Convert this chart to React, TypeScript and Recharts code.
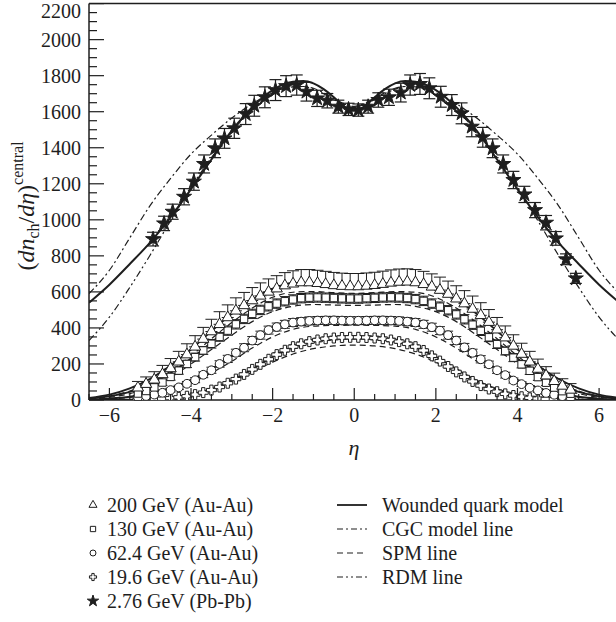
import React from 'react';
import { ComposedChart, Line, Scatter, XAxis, YAxis, ErrorBar, ReferenceLine, Symbols } from 'recharts';

const FONT = '"Liberation Serif", "DejaVu Serif", serif';
const INK = '#1e1e1e';

// ---------- Au-Au data (PHOBOS-like binning) ----------
const auEta = [-5.3, -5.1, -4.9, -4.7, -4.5, -4.3, -4.1, -3.9, -3.7, -3.5, -3.3, -3.1, -2.9, -2.7, -2.5, -2.3, -2.1, -1.9, -1.7, -1.5, -1.3, -1.1, -0.9, -0.7, -0.5, -0.3, -0.1,
  0.1, 0.3, 0.5, 0.7, 0.9, 1.1, 1.3, 1.5, 1.7, 1.9, 2.1, 2.3, 2.5, 2.7, 2.9, 3.1, 3.3, 3.5, 3.7, 3.9, 4.1, 4.3, 4.5, 4.7, 4.9, 5.1, 5.3];

const au200 = [68, 88, 112, 142, 175, 212, 252, 295, 338, 380, 420, 458, 495, 525, 552, 578, 600, 618, 635, 645, 652, 652, 648, 642, 636, 632, 630,
  630, 633, 637, 643, 650, 655, 656, 652, 642, 628, 610, 588, 562, 535, 505, 470, 432, 390, 346, 300, 255, 212, 172, 135, 104, 78, 56];
const au200Err = [35, 40, 45, 50, 55, 58, 60, 62, 65, 68, 70, 70, 72, 72, 72, 72, 72, 72, 72, 72, 72, 72, 72, 72, 72, 72, 72,
  72, 72, 72, 72, 72, 72, 72, 72, 72, 72, 72, 72, 72, 72, 72, 70, 70, 68, 65, 62, 60, 58, 55, 50, 45, 40, 35];

const au130 = [36, 50, 70, 97, 128, 163, 200, 238, 275, 312, 350, 385, 420, 450, 478, 500, 520, 535, 548, 558, 565, 568, 569, 568, 566, 564, 563,
  563, 565, 567, 569, 570, 569, 566, 560, 550, 535, 518, 498, 475, 448, 418, 384, 348, 310, 272, 235, 198, 162, 127, 96, 69, 49, 35];
const au130Err = [10, 12, 14, 16, 18, 20, 20, 22, 22, 24, 24, 26, 26, 26, 26, 26, 26, 26, 26, 26, 26, 26, 26, 26, 26, 26, 26,
  26, 26, 26, 26, 26, 26, 26, 26, 26, 26, 26, 26, 26, 26, 26, 26, 24, 24, 22, 22, 20, 20, 18, 16, 14, 12, 10];

const au62 = [15, 22, 30, 40, 55, 70, 90, 110, 140, 165, 200, 228, 262, 290, 330, 360, 388, 405, 420, 430, 435, 439, 441, 442, 442, 441, 440,
  440, 441, 442, 442, 441, 439, 435, 430, 420, 404, 385, 360, 330, 292, 262, 226, 198, 165, 138, 108, 88, 68, 53, 39, 29, 21, 14];
const au62Err = [6, 7, 8, 9, 10, 12, 13, 14, 16, 17, 18, 20, 20, 22, 22, 22, 22, 22, 22, 22, 22, 22, 22, 22, 22, 22, 22,
  22, 22, 22, 22, 22, 22, 22, 22, 22, 22, 22, 22, 22, 22, 20, 20, 18, 17, 16, 14, 13, 12, 10, 9, 8, 7, 6];

const au19 = [2, 3, 5, 7, 10, 15, 21, 30, 41, 55, 72, 93, 116, 142, 170, 198, 226, 252, 276, 296, 312, 324, 333, 340, 344, 347, 348,
  348, 347, 344, 340, 333, 324, 312, 296, 275, 245, 216, 186, 156, 128, 103, 80, 61, 46, 34, 25, 18, 12, 8, 6, 4, 3, 2];
const au19Err = [2, 2, 3, 3, 4, 4, 5, 5, 6, 6, 7, 7, 8, 8, 9, 9, 10, 10, 10, 10, 10, 10, 10, 10, 10, 10, 10,
  10, 10, 10, 10, 10, 10, 10, 10, 10, 10, 9, 9, 8, 8, 7, 7, 6, 6, 5, 5, 4, 4, 3, 3, 2, 2, 2];

// ---------- Pb-Pb data (2.76 TeV) ----------
const pbEta = [-4.93, -4.66, -4.45, -4.17, -3.93, -3.68, -3.41, -3.18, -2.94, -2.66, -2.45, -2.19, -1.93, -1.67, -1.41, -1.17, -0.91, -0.66, -0.39, -0.14,
  0.1, 0.34, 0.59, 0.85, 1.14, 1.37, 1.61, 1.84, 2.12, 2.39, 2.63, 2.88, 3.15, 3.39, 3.65, 3.9, 4.17, 4.43, 4.7, 4.94, 5.19, 5.43];
const pbVal = [893, 980, 1045, 1128, 1212, 1310, 1397, 1452, 1508, 1587, 1633, 1680, 1720, 1742, 1748, 1711, 1674, 1661, 1628, 1613,
  1609, 1628, 1665, 1680, 1706, 1748, 1754, 1730, 1683, 1637, 1591, 1517, 1458, 1397, 1310, 1221, 1141, 1054, 984, 897, 781, 675];
const pbErr = [38, 40, 42, 45, 48, 50, 52, 55, 56, 58, 58, 58, 58, 58, 56, 52, 45, 40, 36, 34,
  34, 36, 40, 45, 52, 56, 58, 58, 58, 58, 58, 56, 55, 52, 50, 48, 45, 42, 40, 38, 30, 28];

// ---------- model curves ----------
const auModelEta = [-6.5, -6, -5.5, -5, -4.5, -4, -3.5, -3, -2.5, -2, -1.5, -1, -0.5, 0, 0.5, 1, 1.5, 2, 2.5, 3, 3.5, 4, 4.5, 5, 5.5, 6, 6.5];
const wqm200 = [12, 30, 65, 118, 192, 280, 382, 478, 558, 618, 650, 650, 633, 625, 633, 650, 650, 618, 558, 478, 382, 280, 192, 118, 65, 30, 12];
const spm200 = [8, 22, 50, 95, 160, 245, 340, 430, 510, 570, 598, 602, 596, 592, 596, 602, 598, 570, 510, 430, 340, 245, 160, 95, 50, 22, 8];
const wqm130 = [8, 20, 45, 88, 150, 230, 320, 405, 480, 535, 562, 570, 565, 562, 565, 570, 562, 535, 480, 405, 320, 230, 150, 88, 45, 20, 8];
const spm130 = [5, 15, 35, 70, 125, 200, 280, 360, 435, 490, 520, 530, 527, 525, 527, 530, 520, 490, 435, 360, 280, 200, 125, 70, 35, 15, 5];
const wqm62 = [3, 8, 18, 38, 68, 112, 172, 245, 325, 390, 428, 440, 441, 440, 441, 440, 428, 390, 325, 245, 172, 112, 68, 38, 18, 8, 3];
const spm62 = [2, 6, 14, 30, 56, 95, 150, 215, 288, 350, 392, 410, 414, 415, 414, 410, 392, 350, 288, 215, 150, 95, 56, 30, 14, 6, 2];
const wqm19 = [0, 1, 2, 5, 13, 30, 60, 108, 172, 240, 292, 325, 342, 346, 342, 325, 292, 240, 172, 108, 60, 30, 13, 5, 2, 1, 0];
const spm19 = [0, 1, 2, 6, 14, 30, 58, 100, 155, 210, 255, 285, 300, 305, 300, 285, 255, 210, 155, 100, 58, 30, 14, 6, 2, 1, 0];

const pbModelEta = [-6.5, -6, -5.5, -5, -4.5, -4, -3.5, -3, -2.5, -2, -1.75, -1.5, -1.25, -1, -0.75, -0.5, -0.25, 0,
  0.25, 0.5, 0.75, 1, 1.25, 1.5, 1.75, 2, 2.5, 3, 3.5, 4, 4.5, 5, 5.5, 6, 6.5];
const pbWqm = [540, 640, 755, 875, 1015, 1170, 1335, 1495, 1625, 1720, 1750, 1766, 1770, 1757, 1725, 1680, 1630, 1605,
  1630, 1680, 1725, 1757, 1770, 1766, 1750, 1720, 1625, 1495, 1335, 1170, 1015, 875, 755, 640, 540];
const pbCgc = [590, 720, 900, 1080, 1230, 1365, 1470, 1565, 1645, 1705, 1725, 1738, 1740, 1730, 1705, 1675, 1645, 1630,
  1645, 1675, 1705, 1730, 1740, 1738, 1725, 1705, 1645, 1565, 1470, 1365, 1230, 1080, 900, 720, 590];
const pbRdm = [330, 460, 625, 805, 995, 1180, 1345, 1490, 1610, 1695, 1722, 1738, 1740, 1725, 1700, 1668, 1640, 1628,
  1640, 1668, 1700, 1725, 1740, 1738, 1722, 1695, 1610, 1490, 1345, 1180, 995, 805, 625, 460, 330];

// ---------- ticks ----------
const xTicks = [-6.5, -6, -5.5, -5, -4.5, -4, -3.5, -3, -2.5, -2, -1.5, -1, -0.5, 0, 0.5, 1, 1.5, 2, 2.5, 3, 3.5, 4, 4.5, 5, 5.5, 6, 6.5];
const xMajor = [-6, -4, -2, 0, 2, 4, 6];
const yTicks = [0, 50, 100, 150, 200, 250, 300, 350, 400, 450, 500, 550, 600, 650, 700, 750, 800, 850, 900, 950, 1000, 1050, 1100, 1150,
  1200, 1250, 1300, 1350, 1400, 1450, 1500, 1550, 1600, 1650, 1700, 1750, 1800, 1850, 1900, 1950, 2000, 2050, 2100, 2150, 2200];
const yMajor = [0, 200, 400, 600, 800, 1000, 1200, 1400, 1600, 1800, 2000, 2200];

const legendData = ['200 GeV (Au-Au)', '130 GeV (Au-Au)', '62.4 GeV (Au-Au)', '19.6 GeV (Au-Au)', '2.76 GeV (Pb-Pb)'];
const legendMarkers = ['triangle', 'square', 'circle', 'cross', 'star'];
const legendModels = ['Wounded quark model', 'CGC model line', 'SPM line', 'RDM line'];
const legendDash = ['', '6 3 2 3', '6 4', '6 3 2 3 2 3'];

const points = (eta: number[], v: number[], e: number[], up: boolean) =>
  eta.map((x, i) => ({ eta: x, v: v[i], err: up ? [0, e[i]] : e[i] }));
const curve = (eta: number[], v: number[]) => eta.map((x, i) => ({ eta: x, v: v[i] }));

const fmt = (v: number) => (v < 0 ? `\u2212${-v}` : `${v}`);

const XTick = (props: any) => {
  const { x, y, payload } = props;
  const major = xMajor.includes(payload.value);
  return (
    <g>
      <line x1={x} x2={x} y1={y} y2={y - (major ? 12 : 6)} stroke={INK} strokeWidth={1.2} />
      {major && (
        <text x={x} y={y + 22} textAnchor="middle" fontFamily={FONT} fontSize={20} fill={INK}>{fmt(payload.value)}</text>
      )}
    </g>
  );
};

const YTick = (props: any) => {
  const { x, y, payload } = props;
  const major = yMajor.includes(payload.value);
  const top = payload.value === 2200;
  return (
    <g>
      <line x1={x} x2={x + (major ? 15 : 8)} y1={y} y2={y} stroke={INK} strokeWidth={1.2} />
      {major && (
        <text x={x - 8} y={top ? Math.max(y + 7, 18) : y + 7} textAnchor="end" fontFamily={FONT} fontSize={20} fill={INK}>{fmt(payload.value)}</text>
      )}
    </g>
  );
};

const mk = (type: any, size: number, fill: string) => (p: any) => (
  <Symbols cx={p.cx} cy={p.cy} type={type} size={size} fill={fill} stroke={INK} strokeWidth={1} />
);

export default function App() {
  const lineProps = { type: 'monotone' as const, dataKey: 'v', dot: false, activeDot: false, isAnimationActive: false, stroke: INK };
  return (
    <div style={{ position: 'absolute', left: 0, top: 0, width: 616, height: 622, overflow: 'hidden', background: '#fff' }}>
      <ComposedChart width={620} height={622} margin={{ top: 3.6, right: 0.5, bottom: 192, left: 0 }}>
        <XAxis type="number" dataKey="eta" domain={[-6.5, 6.5]} ticks={xTicks} interval={0} allowDataOverflow
          tick={<XTick />} tickLine={false} tickSize={0} tickMargin={0} height={30} axisLine={{ stroke: INK, strokeWidth: 1.5 }} />
        <YAxis type="number" domain={[0, 2200]} ticks={yTicks} interval={0} allowDataOverflow
          tick={<YTick />} tickLine={false} tickSize={0} tickMargin={0} width={89} axisLine={{ stroke: INK, strokeWidth: 1.5 }} />
        <ReferenceLine y={2200} stroke={INK} strokeWidth={1.5} />
        <ReferenceLine x={6.5} stroke={INK} strokeWidth={1.5} />

        <Scatter data={points(auEta, au19, au19Err, false)} dataKey="v" isAnimationActive={false} shape={mk('cross', 55, '#fff')}>
          <ErrorBar dataKey="err" direction="y" width={4} stroke={INK} strokeWidth={1} />
        </Scatter>
        <Scatter data={points(auEta, au62, au62Err, false)} dataKey="v" isAnimationActive={false} shape={mk('circle', 60, '#fff')}>
          <ErrorBar dataKey="err" direction="y" width={5} stroke={INK} strokeWidth={1} />
        </Scatter>
        <Scatter data={points(auEta, au130, au130Err, false)} dataKey="v" isAnimationActive={false} shape={mk('square', 55, '#fff')}>
          <ErrorBar dataKey="err" direction="y" width={5} stroke={INK} strokeWidth={1} />
        </Scatter>
        <Scatter data={points(auEta, au200, au200Err, true)} dataKey="v" isAnimationActive={false} shape={mk('triangle', 55, '#fff')}>
          <ErrorBar dataKey="err" direction="y" width={6} stroke={INK} strokeWidth={1} />
        </Scatter>
        <Scatter data={points(pbEta, pbVal, pbErr, false)} dataKey="v" isAnimationActive={false} shape={mk('star', 70, INK)}>
          <ErrorBar dataKey="err" direction="y" width={6} stroke={INK} strokeWidth={1.2} />
        </Scatter>

        <Line {...lineProps} data={curve(auModelEta, spm19)} strokeWidth={1.2} strokeDasharray="6 4" />
        <Line {...lineProps} data={curve(auModelEta, spm62)} strokeWidth={1.2} strokeDasharray="6 4" />
        <Line {...lineProps} data={curve(auModelEta, spm130)} strokeWidth={1.2} strokeDasharray="6 4" />
        <Line {...lineProps} data={curve(auModelEta, spm200)} strokeWidth={1.2} strokeDasharray="6 4" />
        <Line {...lineProps} data={curve(auModelEta, wqm19)} strokeWidth={1.8} />
        <Line {...lineProps} data={curve(auModelEta, wqm62)} strokeWidth={1.8} />
        <Line {...lineProps} data={curve(auModelEta, wqm130)} strokeWidth={1.8} />
        <Line {...lineProps} data={curve(auModelEta, wqm200)} strokeWidth={1.8} />
        <Line {...lineProps} data={curve(pbModelEta, pbCgc)} strokeWidth={1.2} strokeDasharray="7 3 2 3" />
        <Line {...lineProps} data={curve(pbModelEta, pbRdm)} strokeWidth={1.2} strokeDasharray="7 3 2 3 2 3" />
        <Line {...lineProps} data={curve(pbModelEta, pbWqm)} strokeWidth={2} />
      </ComposedChart>

      <svg width={616} height={622} style={{ position: 'absolute', left: 0, top: 0, pointerEvents: 'none' }}>
        <text transform="translate(34,206) rotate(-90)" textAnchor="middle" fontFamily={FONT} fontSize={24} fill={INK}>
          (<tspan fontStyle="italic">dn</tspan><tspan fontSize={16} dy={5}>ch</tspan><tspan dy={-5}>/</tspan><tspan fontStyle="italic">dη</tspan>)<tspan fontSize={16} dy={-11}>central</tspan>
        </text>
        <text x={354} y={455} textAnchor="middle" fontFamily={FONT} fontStyle="italic" fontSize={22} fill={INK}>η</text>
        {legendData.map((t, i) => (
          <g key={t}>
            <Symbols cx={93} cy={505 + i * 24} type={legendMarkers[i] as any} size={i === 4 ? 40 : 28}
              fill={i === 4 ? INK : '#fff'} stroke={INK} strokeWidth={1} />
            <text x={107} y={512 + i * 24} fontFamily={FONT} fontSize={20} fill={INK}>{t}</text>
          </g>
        ))}
        {legendModels.map((t, i) => (
          <g key={t}>
            <line x1={337} x2={367} y1={505 + i * 24} y2={505 + i * 24} stroke={INK} strokeWidth={i === 0 ? 1.8 : 1.2}
              strokeDasharray={legendDash[i] || undefined} />
            <text x={382} y={512 + i * 24} fontFamily={FONT} fontSize={20} fill={INK}>{t}</text>
          </g>
        ))}
      </svg>
    </div>
  );
}
